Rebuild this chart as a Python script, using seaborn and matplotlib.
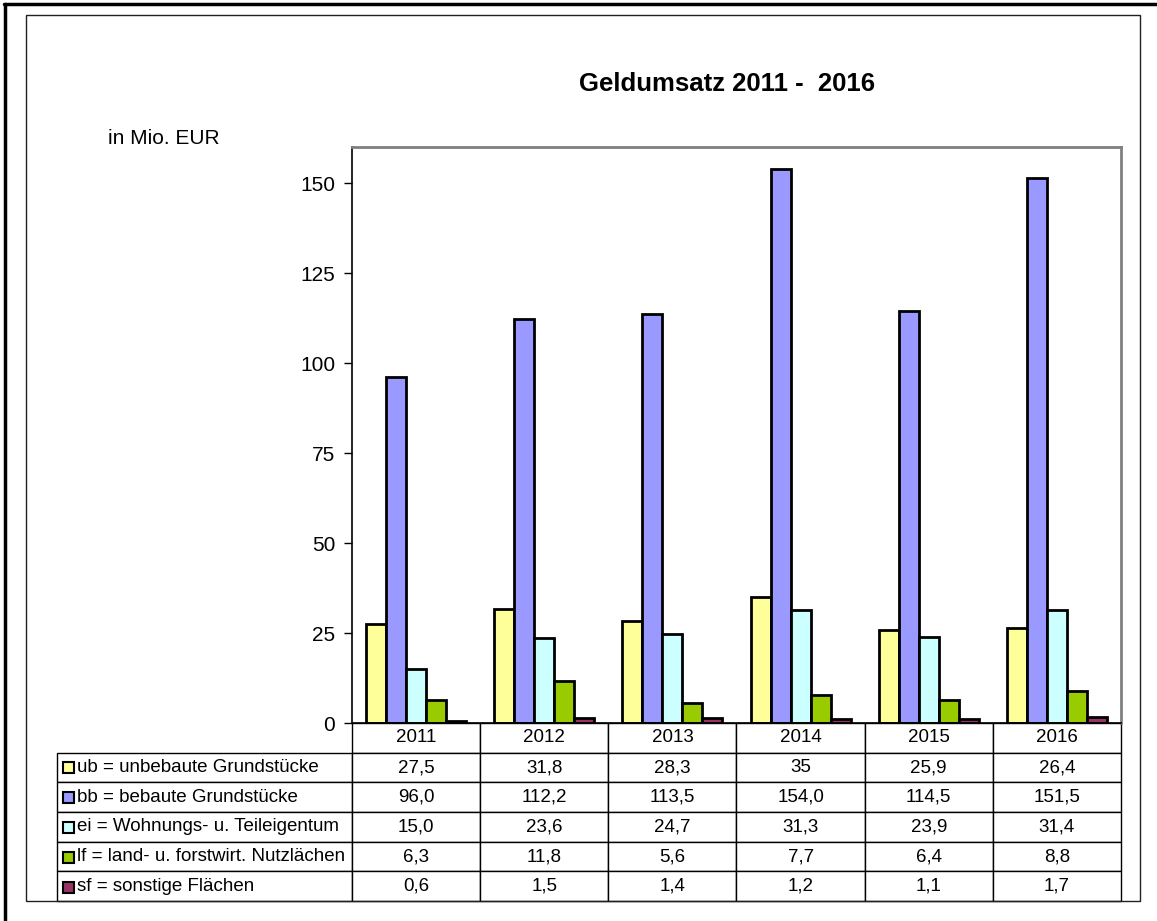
import numpy as np
import pandas as pd
import matplotlib.pyplot as plt
import seaborn as sns
from matplotlib.patches import Rectangle
from matplotlib.lines import Line2D

# Daten
years = ['2011', '2012', '2013', '2014', '2015', '2016']
codes = ['ub', 'bb', 'ei', 'lf', 'sf']
labels = ['ub = unbebaute Grundstücke',
          'bb = bebaute Grundstücke',
          'ei = Wohnungs- u. Teileigentum',
          'lf = land- u. forstwirt. Nutzlächen',
          'sf = sonstige Flächen']
ub = [27.5, 31.8, 28.3, 35, 25.9, 26.4]
bb = [96.0, 112.2, 113.5, 154.0, 114.5, 151.5]
ei = [15.0, 23.6, 24.7, 31.3, 23.9, 31.4]
lf = [6.3, 11.8, 5.6, 7.7, 6.4, 8.8]
sf = [0.6, 1.5, 1.4, 1.2, 1.1, 1.7]
series = [ub, bb, ei, lf, sf]
colors = ['#FFFF99', '#9999FF', '#CCFFFF', '#99CC00', '#993366']

df = pd.DataFrame({
    'Jahr': years * len(codes),
    'Art': np.repeat(codes, len(years)),
    'Wert': np.concatenate([np.array(s, dtype=float) for s in series]),
})

def fmt(v):
    # Excel-Tabelle: Komma als Dezimaltrenner
    if isinstance(v, float):
        return f'{v:.1f}'.replace('.', ',')
    return str(v)

sns.set_style('white')
plt.rcParams['font.family'] = ['Liberation Sans', 'DejaVu Sans']
plt.rcParams['text.color'] = 'black'

W, H = 1157, 921
fig = plt.figure(figsize=(W / 100, H / 100), dpi=100)
ax = fig.add_axes([352 / W, 1 - 723 / H, 769 / W, 576 / H])

sns.barplot(data=df, x='Jahr', y='Wert', hue='Art', order=years, hue_order=codes,
            palette=colors, saturation=1, width=0.78, edgecolor='black',
            linewidth=2, errorbar=None, legend=False, ax=ax)

ax.set_xlim(-0.5, 5.5)
ax.set_ylim(0, 160)
ax.set_yticks(range(0, 151, 25))
ax.set_xticks([])
ax.set_xlabel('')
ax.set_ylabel('')
ax.tick_params(axis='y', left=True, length=6, width=1, direction='out',
               labelsize=15, pad=6, colors='black')
for s in ['top', 'right']:
    ax.spines[s].set_color('#808080')
    ax.spines[s].set_linewidth(2)
for s in ['left', 'bottom']:
    ax.spines[s].set_color('black')
    ax.spines[s].set_linewidth(1.2)

# Datentabelle
cell_text = [[''] + years] + [[lab] + [fmt(v) for v in s] for lab, s in zip(labels, series)]
tab = ax.table(cellText=cell_text, colWidths=[295] + [128.17] * 6, cellLoc='center',
               bbox=[-295 / 769, -178 / 576, 1064 / 769, 178 / 576])
tab.auto_set_font_size(False)
tab.set_fontsize(13.5)
for (r, c), cell in tab.get_celld().items():
    cell.set_edgecolor('black')
    cell.set_linewidth(1)
    cell.get_text().set_color('black')
    if r == 0 and c == 0:
        cell.visible_edges = ''
    elif c == 0:
        cell.get_text().set_horizontalalignment('left')
        cell.PAD = 20 / 295

# Legendenkästchen
for i, col in enumerate(colors):
    yc = 767 + 30 * i
    fig.add_artist(Rectangle((63 / W, 1 - (yc + 5.5) / H), 11 / W, 11 / H,
                             transform=fig.transFigure, facecolor=col,
                             edgecolor='black', lw=1.5))

fig.text(727 / W, 1 - 84 / H, 'Geldumsatz 2011 -  2016', ha='center', va='center',
         fontsize=18.5, fontweight='bold', color='black')
fig.text(108 / W, 1 - 138 / H, 'in Mio. EUR', ha='left', va='center', fontsize=15,
         color='black')

# Rahmen
fig.add_artist(Line2D([4 / W, 1], [1 - 4.5 / H] * 2, color='black', lw=2.5,
                      transform=fig.transFigure))
fig.add_artist(Line2D([5.5 / W] * 2, [0, 1 - 4.5 / H], color='black', lw=2.5,
                      transform=fig.transFigure))
fig.add_artist(Rectangle((26 / W, 1 - 901 / H), (1140 - 26) / W, (901 - 15) / H,
                         transform=fig.transFigure, fill=False,
                         edgecolor='#202020', lw=1))

fig.savefig('out.png', dpi=100)
